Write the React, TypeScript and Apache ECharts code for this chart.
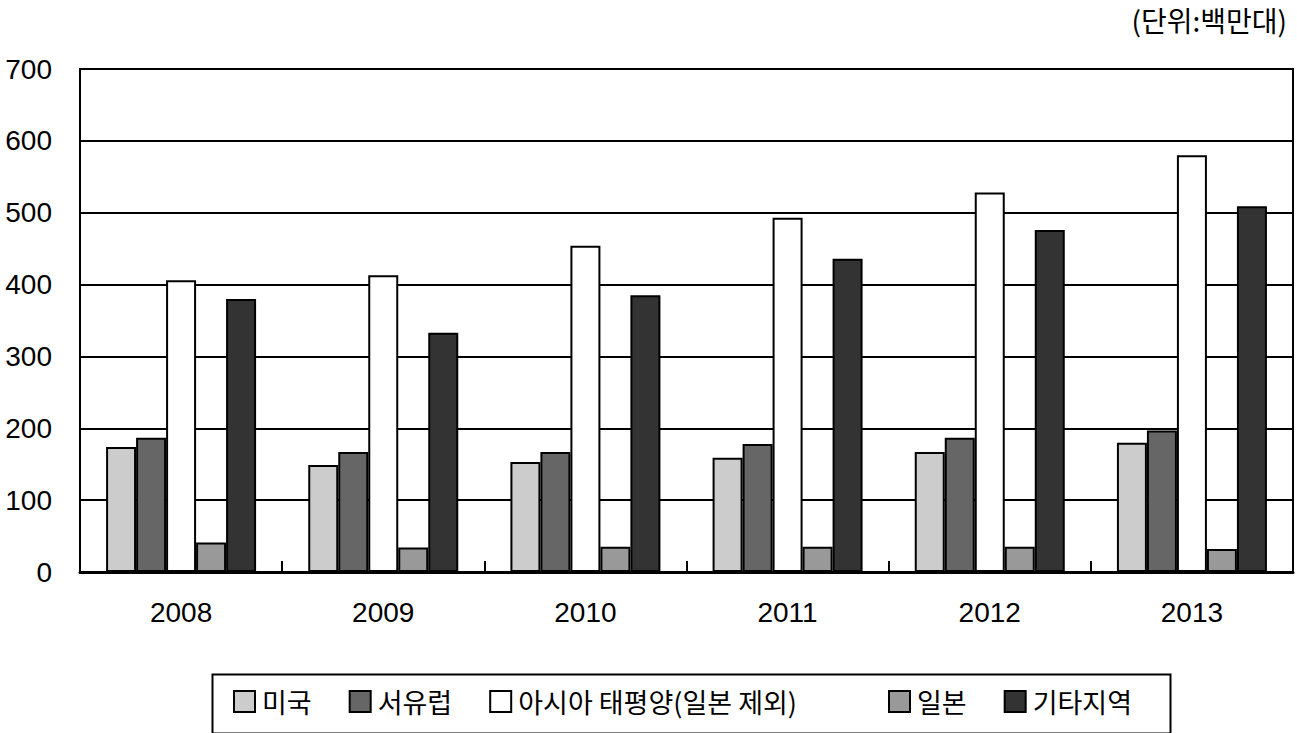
import React, { useEffect, useRef } from "react";
import * as echarts from "echarts";

const years = ["2008", "2009", "2010", "2011", "2012", "2013"];
const usa = [174, 149, 153, 159, 167, 180];
const westEurope = [187, 167, 167, 178, 187, 197];
const asiaPacific = [406, 413, 454, 493, 528, 580];
const japan = [41, 34, 35, 35, 35, 32];
const others = [380, 333, 385, 436, 476, 509];
const seriesNames = ["미국", "서유럽", "아시아 태평양(일본 제외)", "일본", "기타지역"];
const seriesColors = ["#cccccc", "#666666", "#ffffff", "#999999", "#333333"];
const unitLabel = "(단위:백만대)";

export default function App() {
  const ref = useRef<HTMLDivElement>(null);
  useEffect(() => {
    if (!ref.current) return;
    const chart = echarts.init(ref.current, undefined, { renderer: "svg" });
    const data = [usa, westEurope, asiaPacific, japan, others];
    const cjk = "'Noto Sans CJK KR', 'Liberation Sans', sans-serif";
    const legendBase = {
      top: 688,
      itemWidth: 21,
      itemHeight: 21,
      itemGap: 37,
      padding: 0,
      icon: "rect",
      textStyle: { fontFamily: cjk, fontSize: 27, color: "#000", padding: [0, 0, 0, 2] },
      selectedMode: false,
    };
    chart.setOption({
      animation: false,
      backgroundColor: "#ffffff",
      title: {
        text: unitLabel,
        right: 10,
        top: 6,
        padding: 0,
        textStyle: { fontFamily: cjk, fontSize: 28, fontWeight: "normal", color: "#000" },
      },
      grid: {
        left: 80,
        right: 4,
        top: 69,
        bottom: 161,
        show: true,
        borderColor: "#000",
        borderWidth: 2,
        containLabel: false,
      },
      legend: [
        { ...legendBase, left: 233, data: seriesNames.slice(0, 3) },
        { ...legendBase, left: 888, data: seriesNames.slice(3) },
      ],
      graphic: [
        {
          type: "rect",
          left: 210,
          top: 672,
          shape: { width: 958, height: 59 },
          style: { fill: "none", stroke: "#000", lineWidth: 2 },
          silent: true,
        },
      ],
      xAxis: {
        type: "category",
        data: years,
        axisLine: { lineStyle: { color: "#000", width: 3 } },
        axisTick: { show: true, inside: true, length: 11, lineStyle: { color: "#000", width: 2 } },
        axisLabel: {
          fontFamily: "'Liberation Sans', Arial, sans-serif",
          fontSize: 28,
          color: "#000",
          margin: 26,
        },
      },
      yAxis: {
        type: "value",
        min: 0,
        max: 700,
        interval: 100,
        axisLine: { show: false },
        axisTick: { show: false },
        splitLine: { lineStyle: { color: "#000", width: 2 } },
        axisLabel: {
          fontFamily: "'Liberation Sans', Arial, sans-serif",
          fontSize: 28,
          color: "#000",
          margin: 28,
        },
      },
      series: seriesNames.map((name, i) => ({
        name,
        type: "bar",
        data: data[i],
        barWidth: 30,
        barGap: "0%",
        itemStyle: { color: seriesColors[i], borderColor: "#000", borderWidth: 2 },
      })),
    });
    return () => chart.dispose();
  }, []);
  return (
    <div
      ref={ref}
      style={{ position: "fixed", left: 0, top: 0, width: 1297, height: 733, background: "#fff" }}
    />
  );
}
